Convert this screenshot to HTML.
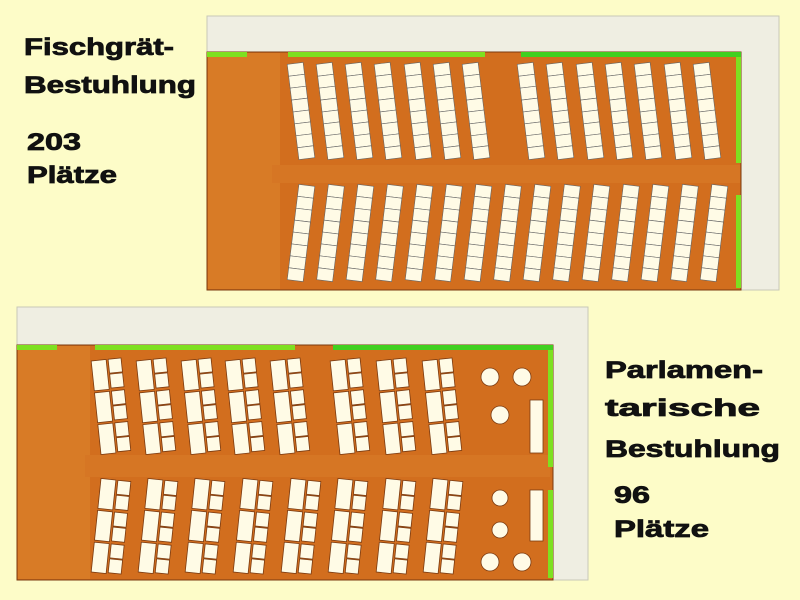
<!DOCTYPE html>
<html><head><meta charset="utf-8"><style>
html,body{margin:0;padding:0;background:#fdfcc8;}
svg{display:block}
text{font-family:"Liberation Sans",sans-serif;font-weight:bold;font-size:24px;fill:#111;stroke:#111;stroke-width:0.8}
</style></head><body>
<svg id="s" width="800" height="600" xmlns="http://www.w3.org/2000/svg">
<rect width="800" height="600" fill="#fdfcc8"/>
<!-- top plan -->
<rect x="207" y="16" width="572" height="274" fill="#efeee2" stroke="#c8c8b8"/>
<rect x="207" y="52" width="534" height="238" fill="#d26e1e" stroke="#7a3a10" stroke-width="1"/>
<rect x="208" y="53" width="72" height="236" fill="#d87b26"/>
<rect x="272" y="165" width="468" height="18" fill="#d67624"/>
<rect x="207" y="52" width="40" height="5" fill="#7ee020"/>
<rect x="288" y="52" width="197" height="5" fill="#7ee020"/>
<rect x="521" y="52" width="220" height="5" fill="#40d020"/>
<rect x="736" y="57" width="5" height="106" fill="#7ee020"/>
<rect x="736" y="195" width="5" height="93" fill="#7ee020"/>
<g id="top"></g>
<!-- bottom plan -->
<rect x="17" y="307" width="571" height="273" fill="#efeee2" stroke="#c8c8b8"/>
<rect x="17" y="345" width="536" height="235" fill="#d26e1e" stroke="#7a3a10" stroke-width="1"/>
<rect x="18" y="346" width="72" height="233" fill="#d87b26"/>
<rect x="85" y="455" width="465" height="22" fill="#d67624"/>
<rect x="17" y="345" width="40" height="5" fill="#7ee020"/>
<rect x="95" y="345" width="200" height="5" fill="#7ee020"/>
<rect x="333" y="345" width="220" height="5" fill="#40d020"/>
<rect x="548" y="350" width="5" height="117" fill="#7ee020"/>
<rect x="548" y="490" width="5" height="88" fill="#7ee020"/>
<g id="bot"></g>
<g fill="#fffbe6" stroke="#7a3a10" stroke-width="0.8">
<circle cx="490" cy="377" r="9"/><circle cx="522" cy="377" r="9"/>
<circle cx="500" cy="415" r="9"/><circle cx="500" cy="498" r="8"/>
<circle cx="500" cy="530" r="8"/><circle cx="490" cy="562" r="9"/>
<circle cx="522" cy="562" r="9"/>
<rect x="530" y="400" width="13" height="53"/><rect x="530" y="490" width="13" height="51"/>
</g>
<text x="24" y="55" textLength="150" lengthAdjust="spacingAndGlyphs">Fischgrät-</text>
<text x="24" y="93" textLength="172" lengthAdjust="spacingAndGlyphs">Bestuhlung</text>
<text x="27" y="150" textLength="54" lengthAdjust="spacingAndGlyphs">203</text>
<text x="27" y="183" textLength="90" lengthAdjust="spacingAndGlyphs">Plätze</text>
<text x="605" y="378" textLength="158" lengthAdjust="spacingAndGlyphs">Parlamen-</text>
<text x="605" y="416" textLength="155" lengthAdjust="spacingAndGlyphs">tarische</text>
<text x="605" y="457" textLength="175" lengthAdjust="spacingAndGlyphs">Bestuhlung</text>
<text x="614" y="503" textLength="36" lengthAdjust="spacingAndGlyphs">96</text>
<text x="614" y="537" textLength="95" lengthAdjust="spacingAndGlyphs">Plätze</text>
</svg>
<script>
var NS="http://www.w3.org/2000/svg";
function col(g,cx,cy,n,ang,w,h){
  var grp=document.createElementNS(NS,"g");
  grp.setAttribute("transform","rotate("+ang+" "+cx+" "+cy+")");
  var tot=n*h;
  for(var i=0;i<n;i++){
    var r=document.createElementNS(NS,"rect");
    r.setAttribute("x",cx-w/2);r.setAttribute("y",cy-tot/2+i*h);
    r.setAttribute("width",w);r.setAttribute("height",h);
    r.setAttribute("fill","#fffbe6");r.setAttribute("stroke","#666");r.setAttribute("stroke-width","0.6");
    grp.appendChild(r);
  }
  g.appendChild(grp);
}
var t=document.getElementById("top");
var L=[301,330,359,388,418,447,476],R=[531,560,590,619,648,678,707];
L.concat(R).forEach(function(x){col(t,x,111,8,-7,16,12);});
for(var i=0;i<15;i++){col(t,301+i*29.5,233,8,7,16,12);}
var b=document.getElementById("bot");
function grp(cx,cy,ang){
  var g=document.createElementNS(NS,"g");
  g.setAttribute("transform","rotate("+ang+" "+cx+" "+cy+")");
  for(var r=0;r<3;r++){
    var y=cy-47+r*32;
    var a=document.createElementNS(NS,"rect");
    a.setAttribute("x",cx-17);a.setAttribute("y",y);a.setAttribute("width",15);a.setAttribute("height",30);
    a.setAttribute("fill","#fffbe6");a.setAttribute("stroke","#7a3a10");a.setAttribute("stroke-width","0.8");g.appendChild(a);
    for(var k=0;k<2;k++){
      var c=document.createElementNS(NS,"rect");
      c.setAttribute("x",cx);c.setAttribute("y",y+k*15);c.setAttribute("width",13);c.setAttribute("height",14);
      c.setAttribute("fill","#fffbe6");c.setAttribute("stroke","#7a3a10");c.setAttribute("stroke-width","0.8");g.appendChild(c);
    }
  }
  b.appendChild(g);
}
[113,158,203,247,292,352,398,444].forEach(function(x){grp(x,406,-6);});
[113,160,207,255,303,350,398,445].forEach(function(x){grp(x,527,6);});
</script>
</body></html>
